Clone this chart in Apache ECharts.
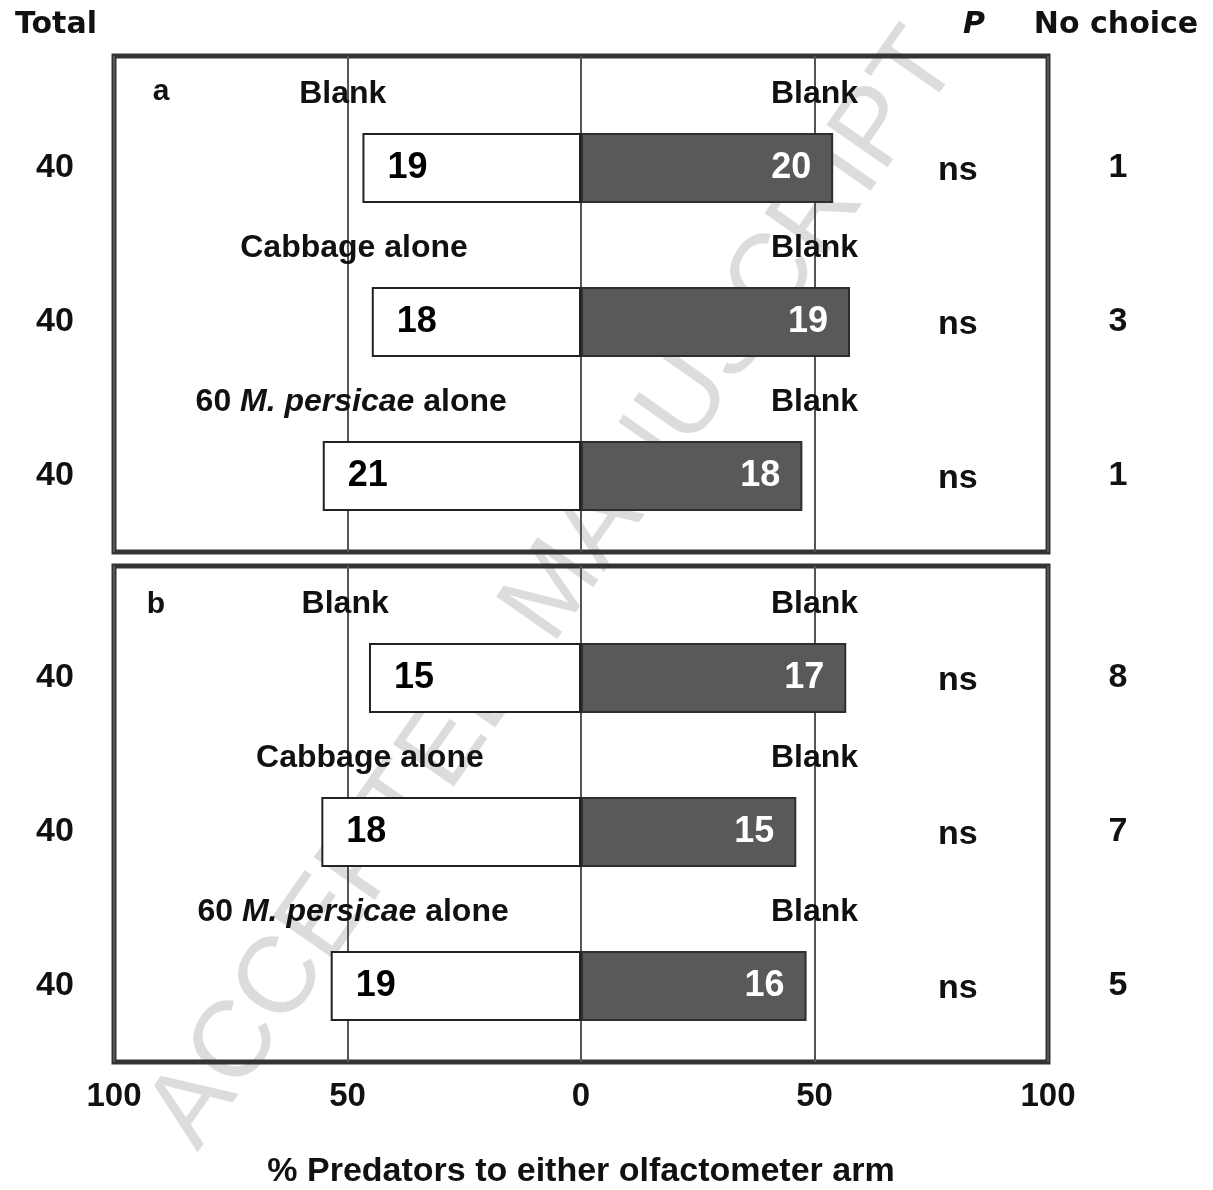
<!DOCTYPE html>
<html>
<head>
<meta charset="utf-8">
<script src="https://cdn.jsdelivr.net/npm/echarts@6/dist/echarts.min.js"></script>
<style>
  html, body { margin: 0; padding: 0; background: #fff; }
  #chart { width: 1213px; height: 1190px; }
</style>
</head>
<body>
<div id="chart"></div>
<script>
// Odour source in each olfactometer arm, one entry per test (same in both panels)
const treatmentArm = ['Blank', 'Cabbage alone', '60 M. persicae alone'];
const controlArm = ['Blank', 'Blank', 'Blank'];

// Panel a
const totalA = [40, 40, 40];
const countTreatA = [19, 18, 21];
const countCtrlA = [20, 19, 18];
const pctTreatA = [46.8, 44.8, 55.3];
const pctCtrlA = [54.0, 57.6, 47.4];
const pValueA = ['ns', 'ns', 'ns'];
const noChoiceA = [1, 3, 1];

// Panel b
const totalB = [40, 40, 40];
const countTreatB = [15, 18, 19];
const countCtrlB = [17, 15, 16];
const pctTreatB = [45.4, 55.6, 53.6];
const pctCtrlB = [56.8, 46.1, 48.3];
const pValueB = ['ns', 'ns', 'ns'];
const noChoiceB = [8, 7, 5];

const rowKeys = ['t1', 't2', 't3'];

// Where the arm captions sit along the % scale
const captionXA = [-51, -48.6, -49.2];
const captionXB = [-50.5, -45.2, -48.8];
const ctrlCaptionX = 50;
const pColumnX = 80.7;

const FONT = "'Liberation Sans', Arial, sans-serif";
const HEAVY = "'DejaVu Sans', 'Liberation Sans', sans-serif";
const INK = '#111';

const GRID_LEFT = 114, GRID_W = 934, PANEL_H = 496, BAR_OFFSET = 35, BAR_AREA_H = 462;
const panelTops = [56, 566];

function richName(s) {
  return s.replace('M. persicae', '{i|M. persicae}');
}

const grids = [], xAxes = [], yAxes = [], series = [];

function addPanel(p, d, isLast) {
  const top = panelTops[p];
  const frameGrid = grids.length;
  grids.push({
    left: GRID_LEFT, top: top, width: GRID_W, height: PANEL_H,
    show: true, borderColor: '#333', borderWidth: 5,
    backgroundColor: 'transparent', containLabel: false, outerBoundsMode: 'none'
  });
  const barGrid = grids.length;
  grids.push({
    left: GRID_LEFT, top: top + BAR_OFFSET, width: GRID_W, height: BAR_AREA_H,
    containLabel: false, outerBoundsMode: 'none'
  });

  xAxes.push({
    type: 'value', gridIndex: frameGrid, min: -100, max: 100, interval: 50,
    axisLine: { show: false }, axisTick: { show: false },
    splitLine: { show: true, lineStyle: { color: '#555', width: 2 } },
    axisLabel: isLast ? {
      show: true, margin: 18, formatter: v => Math.abs(v),
      fontFamily: FONT, fontSize: 33, fontWeight: 'bold', color: INK
    } : { show: false },
    name: isLast ? '% Predators to either olfactometer arm' : '',
    nameLocation: 'middle', nameGap: 93,
    nameTextStyle: { fontFamily: FONT, fontSize: 34, fontWeight: 'bold', color: INK }
  });
  const xBar = xAxes.length;
  xAxes.push({
    type: 'value', gridIndex: barGrid, min: -100, max: 100, interval: 50,
    show: false, splitLine: { show: false }
  });

  yAxes.push({ type: 'value', gridIndex: frameGrid, min: 0, max: 1, show: false, splitLine: { show: false } });
  const yLeft = yAxes.length;
  yAxes.push({
    type: 'category', gridIndex: barGrid, data: rowKeys, inverse: true, position: 'left',
    axisLine: { show: false }, axisTick: { show: false }, splitLine: { show: false },
    axisLabel: {
      show: true, align: 'center', margin: 59,
      formatter: (v, i) => String(d.total[i]),
      fontFamily: FONT, fontSize: 34, fontWeight: 'bold', color: INK
    }
  });
  yAxes.push({
    type: 'category', gridIndex: barGrid, data: rowKeys, inverse: true, position: 'right',
    axisLine: { show: false }, axisTick: { show: false }, splitLine: { show: false },
    axisLabel: {
      show: true, align: 'center', margin: 70,
      formatter: (v, i) => String(d.noChoice[i]),
      fontFamily: FONT, fontSize: 34, fontWeight: 'bold', color: INK
    }
  });

  // Treatment arm (white bars, drawn to the left)
  series.push({
    type: 'bar', xAxisIndex: xBar, yAxisIndex: yLeft,
    data: d.pctTreat.map(v => -v),
    barWidth: 70, barGap: '-100%',
    itemStyle: { color: '#fff', borderColor: '#222', borderWidth: 2 },
    label: {
      show: true, position: 'insideLeft', distance: 25,
      formatter: prm => String(d.countTreat[prm.dataIndex]),
      fontFamily: FONT, fontSize: 36, fontWeight: 'bold', color: '#000'
    },
    silent: true
  });
  // Blank arm (dark bars, drawn to the right)
  series.push({
    type: 'bar', xAxisIndex: xBar, yAxisIndex: yLeft,
    data: d.pctCtrl,
    barWidth: 70, barGap: '-100%',
    itemStyle: { color: '#595959', borderColor: '#2e2e2e', borderWidth: 2 },
    label: {
      show: true, position: 'insideRight', distance: 22,
      formatter: prm => String(d.countCtrl[prm.dataIndex]),
      fontFamily: FONT, fontSize: 36, fontWeight: 'bold', color: '#fff'
    },
    silent: true
  });

  const captionLabel = {
    show: true, position: 'inside', offset: [0, -74], opacity: 1,
    fontFamily: FONT, fontSize: 32, fontWeight: 'bold', color: INK,
    rich: { i: { fontFamily: FONT, fontSize: 32, fontWeight: 'bold', fontStyle: 'italic', color: INK } }
  };
  const textOnly = { type: 'scatter', symbolSize: 0, silent: true, itemStyle: { opacity: 1 } };
  // Arm captions above each pair of bars
  series.push(Object.assign({}, textOnly, {
    xAxisIndex: xBar, yAxisIndex: yLeft,
    data: d.captionX.map((x, i) => [x, i]),
    label: Object.assign({}, captionLabel, { formatter: prm => richName(treatmentArm[prm.dataIndex]) })
  }));
  series.push(Object.assign({}, textOnly, {
    xAxisIndex: xBar, yAxisIndex: yLeft,
    data: controlArm.map((s, i) => [ctrlCaptionX, i]),
    label: Object.assign({}, captionLabel, { formatter: prm => controlArm[prm.dataIndex] })
  }));
  // Significance column
  series.push(Object.assign({}, textOnly, {
    xAxisIndex: xBar, yAxisIndex: yLeft,
    data: d.pValue.map((s, i) => [pColumnX, i]),
    label: {
      show: true, position: 'inside', offset: [0, 3], opacity: 1,
      formatter: prm => d.pValue[prm.dataIndex],
      fontFamily: FONT, fontSize: 34, fontWeight: 'bold', color: INK
    }
  }));
}

addPanel(0, {
  total: totalA, countTreat: countTreatA, countCtrl: countCtrlA,
  pctTreat: pctTreatA, pctCtrl: pctCtrlA, pValue: pValueA, noChoice: noChoiceA,
  captionX: captionXA
}, false);
addPanel(1, {
  total: totalB, countTreat: countTreatB, countCtrl: countCtrlB,
  pctTreat: pctTreatB, pctCtrl: pctCtrlB, pValue: pValueB, noChoice: noChoiceB,
  captionX: captionXB
}, true);

const chart = echarts.init(document.getElementById('chart'), null, { renderer: 'canvas' });
chart.setOption({
  backgroundColor: '#fff',
  animation: false,
  grid: grids,
  xAxis: xAxes,
  yAxis: yAxes,
  series: series,
  graphic: [
    {
      type: 'text', x: 555, y: 590, rotation: 0.96, z: -10, silent: true,
      style: {
        text: 'ACCEPTED MANUSCRIPT', fill: '#dcdcdc',
        font: 'normal 108px ' + FONT, textAlign: 'center', textVerticalAlign: 'middle'
      }
    },
    { type: 'text', x: 56, y: 25, style: { text: 'Total', fill: INK, font: 'bold 30px ' + HEAVY, textAlign: 'center', textVerticalAlign: 'middle' } },
    { type: 'text', x: 974, y: 25, style: { text: 'P', fill: INK, font: 'italic bold 30px ' + HEAVY, textAlign: 'center', textVerticalAlign: 'middle' } },
    { type: 'text', x: 1116, y: 25, style: { text: 'No choice', fill: INK, font: 'bold 30px ' + HEAVY, textAlign: 'center', textVerticalAlign: 'middle' } },
    { type: 'text', x: 161, y: 92, style: { text: 'a', fill: INK, font: 'bold 30px ' + FONT, textAlign: 'center', textVerticalAlign: 'middle' } },
    { type: 'text', x: 156, y: 605, style: { text: 'b', fill: INK, font: 'bold 30px ' + FONT, textAlign: 'center', textVerticalAlign: 'middle' } }
  ]
});
</script>
</body>
</html>
